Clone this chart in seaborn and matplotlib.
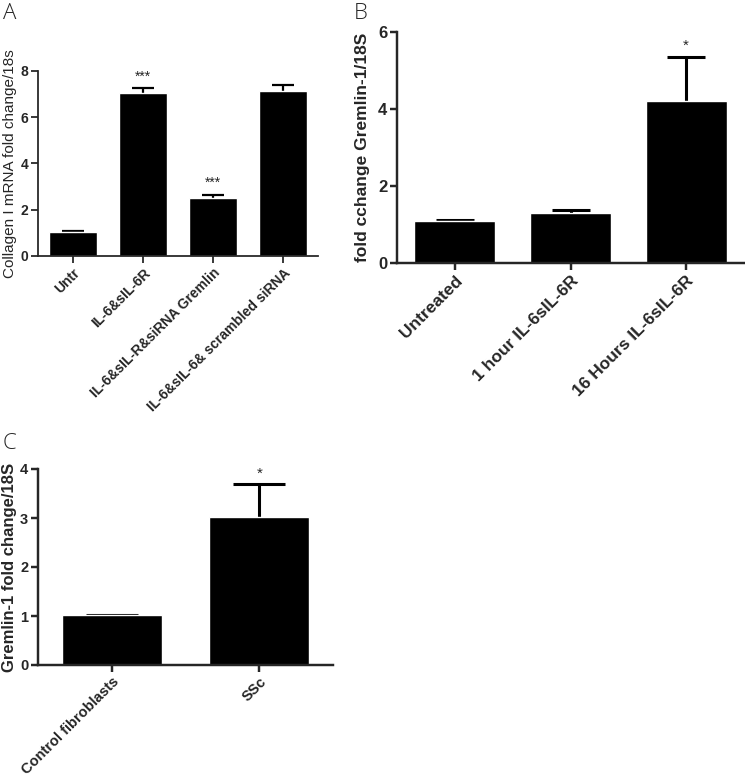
import matplotlib
matplotlib.use("Agg")
import matplotlib.pyplot as plt
import seaborn as sns
import pandas as pd

sns.set_style("ticks")
plt.rcParams['font.family'] = ['Liberation Sans', 'DejaVu Sans']

# Panel A: collagen I mRNA
a_groups = ["Untr", "IL-6&sIL-6R", "IL-6&sIL-R&siRNA Gremlin", "IL-6&sIL-6& scrambled siRNA"]
a_means = [1.05, 7.05, 2.5, 7.15]
a_err = [0.03, 0.22, 0.15, 0.25]
a_stars = ["", "***", "***", ""]
a_star_y = [0, 7.75, 3.15, 0]

# Panel B: Gremlin-1 time course
b_groups = ["Untreated", "1 hour IL-6sIL-6R", "16 Hours IL-6sIL-6R"]
b_means = [1.1, 1.3, 4.2]
b_err = [0.02, 0.07, 1.15]
b_stars = ["", "", "*"]
b_star_y = [0, 5.65, 5.65]

# Panel C: Gremlin-1 in SSc fibroblasts
c_groups = ["Control fibroblasts", "SSc"]
c_means = [1.02, 3.02]
c_err = [0.0, 0.68]
c_stars = ["", "*"]
c_star_y = [0, 3.9, 3.9]

W, H = 745, 778
fig = plt.figure(figsize=(W / 100, H / 100), dpi=100)


def px_axes(x0, x1, y_top, y_bottom):
    return fig.add_axes([x0 / W, 1 - y_bottom / H, (x1 - x0) / W, (y_bottom - y_top) / H])


def panel(ax, groups, means, errs, stars, star_y, width, ylim, yticks, ylabel,
          tick_fs, label_fs, label_weight, xfs, capsize, lw, star_fs, label_x):
    df = pd.DataFrame({"group": groups, "value": means})
    sns.barplot(data=df, x="group", y="value", color="black", width=width,
                errorbar=None, saturation=1, ax=ax, zorder=2)
    eb = ax.errorbar(range(len(groups)), means, yerr=[[0] * len(errs), errs], fmt="none",
                     ecolor="black", elinewidth=lw, capsize=capsize, capthick=lw, zorder=1)
    # only the upper cap, as in the original
    eb[1][0].set_visible(False)
    for i, s in enumerate(stars):
        if s:
            ax.text(i, star_y[i], s, ha="center", va="center", fontsize=star_fs)
    ax.set_xlim(-0.5, len(groups) - 0.5)
    ax.set_ylim(*ylim)
    ax.set_yticks(yticks)
    ax.set_xlabel("")
    ax.set_ylabel(ylabel, fontsize=label_fs, fontweight=label_weight)
    ax.yaxis.set_label_coords(label_x, 0.5)
    ax.set_xticks(range(len(groups)))
    ax.set_xticklabels(groups, rotation=45, ha="right", rotation_mode="anchor",
                       fontsize=xfs, fontweight="bold")
    for lab in ax.get_yticklabels():
        lab.set_fontweight("bold")
        lab.set_fontsize(tick_fs)
    ax.tick_params(width=lw * 0.8, length=5, pad=2)
    for side in ["top", "right"]:
        ax.spines[side].set_visible(False)
    for side in ["left", "bottom"]:
        ax.spines[side].set_linewidth(lw * 0.8)
    ax.spines["left"].set_bounds(*ylim)


axA = px_axes(38, 318, 71, 256)
panel(axA, a_groups, a_means, a_err, a_stars, a_star_y, 0.69, (0, 8), [0, 2, 4, 6, 8],
      "Collagen I mRNA fold change/18s", 10, 11, "normal", 10, 8, 1.6, 10, -0.075)

axB = px_axes(397, 744, 32, 263)
panel(axB, b_groups, b_means, b_err, b_stars, b_star_y, 0.7, (0, 6), [0, 2, 4, 6],
      "fold cchange Gremlin-1/18S", 12, 12.5, "bold", 12.5, 14, 2.2, 11, -0.078)

axC = px_axes(38, 333, 469, 665)
panel(axC, c_groups, c_means, c_err, c_stars, c_star_y, 0.68, (0, 4), [0, 1, 2, 3, 4],
      "Gremlin-1 fold change/18S", 10.5, 12, "bold", 10.5, 19, 2.2, 11, -0.071)

for label, (x, y) in zip(["A", "B", "C"], [(3, 3), (354, 3), (3, 433)]):
    fig.text(x / W, 1 - y / H, label, fontsize=16, family="Open Sans",
             fontweight="light", va="top", ha="left")

fig.savefig("out.png", dpi=100)
